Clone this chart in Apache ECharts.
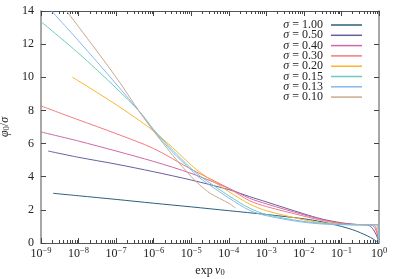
<!DOCTYPE html>
<html><head><meta charset="utf-8">
<script src="https://cdn.jsdelivr.net/npm/echarts@6/dist/echarts.min.js"></script>
<style>html,body{margin:0;padding:0;background:#fff}#c{width:399px;height:279px}</style>
</head><body><div id="c"></div>
<script>
// ---- data ----
const legendLabels = ['σ = 1.00','σ = 0.50','σ = 0.40','σ = 0.30','σ = 0.20','σ = 0.15','σ = 0.13','σ = 0.10'];
const yTicks = [0, 2, 4, 6, 8, 10, 12, 14];
const xTickExponents = [-9, -8, -7, -6, -5, -4, -3, -2, -1, 0];

const s100 = [[2.1e-9,3.0],[1e-8,2.85],[1e-7,2.63],[1e-6,2.4],[1e-5,2.18],[1e-4,1.95],[1e-3,1.72],[1e-2,1.46],[3e-2,1.28],[1e-1,1.0],[0.2,0.8],[0.32,0.62],[0.5,0.42],[0.7,0.24],[0.85,0.11],[1,0]];
const s050 = [[1.55e-9,5.55],[1e-8,5.17],[1e-7,4.76],[1e-6,4.3],[1e-5,3.8],[1e-4,3.22],[3.6e-4,2.8],[1e-3,2.48],[1e-2,1.76],[3e-2,1.45],[1e-1,1.22],[0.25,1.12],[0.45,1.1],[0.55,1.05],[0.65,0.92],[0.75,0.72],[0.85,0.48],[0.93,0.25],[1,0]];
const s040 = [[1e-9,6.7],[1e-8,6.15],[1e-7,5.55],[1e-6,4.92],[1e-5,4.2],[1e-4,3.3],[3.6e-4,2.7],[1e-3,2.36],[1e-2,1.7],[3e-2,1.42],[1e-1,1.18],[0.3,1.11],[0.6,1.1],[0.7,1.03],[0.8,0.85],[0.88,0.6],[0.94,0.35],[0.98,0.15],[1,0]];
const s030 = [[1e-9,8.27],[1e-8,7.43],[1e-7,6.6],[1e-6,5.7],[1e-5,4.45],[1e-4,3.3],[3.6e-4,2.55],[1e-3,2.2],[1e-2,1.62],[3e-2,1.36],[1e-1,1.16],[0.3,1.1],[0.7,1.1],[0.8,1.0],[0.88,0.78],[0.94,0.5],[0.98,0.22],[1,0]];
const s020 = [[6.8e-9,10.0],[1e-8,9.78],[1e-7,8.35],[4.4e-7,7.35],[1e-6,6.75],[3.2e-6,5.75],[1e-5,4.7],[1.7e-5,4.27],[1e-4,3.1],[3.6e-4,2.35],[1e-3,1.95],[1e-2,1.4],[3e-2,1.22],[1e-1,1.13],[0.3,1.1],[0.85,1.1],[0.9,1.0],[0.95,0.7],[0.98,0.4],[1,0]];
const s015 = [[1e-9,13.36],[1e-8,11.45],[1e-7,9.35],[4.4e-7,7.88],[1e-6,6.85],[3.2e-6,5.6],[1e-5,4.5],[1.7e-5,4.05],[1e-4,2.85],[3.6e-4,2.1],[1e-3,1.72],[1e-2,1.3],[1e-1,1.12],[0.5,1.1],[0.92,1.1],[0.96,0.9],[0.985,0.55],[1,0]];
const s013 = [[1e-9,14.7],[1e-8,12.2],[1e-7,9.6],[4.4e-7,7.86],[1e-6,6.78],[3.2e-6,5.48],[1e-5,4.4],[1.7e-5,3.92],[1e-4,2.72],[3.6e-4,1.97],[1e-3,1.65],[1e-2,1.25],[1e-1,1.1],[0.5,1.1],[0.94,1.1],[0.97,0.9],[0.99,0.5],[1,0]];
const s010 = [[1e-9,16.0],[1e-8,13.05],[1e-7,10.0],[4.4e-7,7.85],[1e-6,6.75],[3.2e-6,5.3],[1e-5,4.0],[1.7e-5,3.5],[3.2e-5,3.0],[1e-4,2.4],[1.5e-4,2.12]];
const seriesData = [s100, s050, s040, s030, s020, s015, s013, s010];

// ---- style ----
const colors = ['#2c5f7c','#6a5d9f','#d067a8','#f47a7f','#fbb42f','#6ccbc0','#8ab7ef','#c7aa90'];
const serif = "'Liberation Serif','DejaVu Serif',serif";

const minorTicks = [];
for (let e = -9; e < 0; e++) for (let m = 2; m <= 9; m++) minorTicks.push(m * Math.pow(10, e));
const majorTicks = xTickExponents.map(e => Math.pow(10, e));

function expLabel(v) {
  const e = Math.round(Math.log10(v));
  return '{b|10}{s|' + (e < 0 ? '\u2212' + (-e) : String(e)) + '}';
}
const supRich = {
  b: {fontFamily: serif, fontSize: 12, lineHeight: 16, color: '#222'},
  s: {fontFamily: serif, fontSize: 8.5, lineHeight: 8, verticalAlign: 'top', color: '#222'}
};

function xAx(pos, major, labels) {
  return {
    type: 'log', logBase: 10, min: 1e-9, max: 1, position: pos,
    axisLine: {show: major, onZero: false, lineStyle: {color: '#555', width: 1}},
    axisTick: {show: true, inside: true, length: major ? 5 : 3, customValues: major ? majorTicks : minorTicks, lineStyle: {color: '#444', width: 1}},
    axisLabel: labels ? {show: true, formatter: expLabel, margin: 3, rich: supRich, customValues: majorTicks} : {show: false},
    splitLine: {show: false}, minorTick: {show: false}
  };
}

const xAxes = [xAx('bottom', true, true), xAx('bottom', false, false), xAx('top', true, false), xAx('top', false, false)];
xAxes[0].name = '{n|exp\u2009}{i|ν}{sub|0}';
xAxes[0].nameLocation = 'middle';
xAxes[0].nameGap = 20;
xAxes[0].nameTextStyle = {rich: {
  n: {fontFamily: serif, fontSize: 12, color: '#222'},
  i: {fontFamily: serif, fontSize: 12, fontStyle: 'italic', color: '#222'},
  sub: {fontFamily: serif, fontSize: 8.5, verticalAlign: 'bottom', lineHeight: 8, color: '#222'}
}};

const option = {
  animation: false,
  backgroundColor: '#fff',
  grid: {left: 41, right: 20, top: 11, bottom: 36, containLabel: false, outerBoundsMode: 'none'},
  xAxis: xAxes,
  yAxis: [
    {type: 'value', min: 0, max: 14, interval: 2, position: 'left',
     axisLine: {show: true, onZero: false, lineStyle: {color: '#8a8a8a', width: 1.5}},
     axisTick: {show: true, inside: true, length: 5, lineStyle: {color: '#444'}},
     axisLabel: {fontFamily: serif, fontSize: 12, color: '#222', margin: 7},
     splitLine: {show: false},
     name: '{i|φ}{sub|0}{n|/}{i|σ}', nameLocation: 'middle', nameGap: 25, nameRotate: 90,
     nameTextStyle: {rich: {
       i: {fontFamily: serif, fontSize: 12, fontStyle: 'italic', color: '#222'},
       n: {fontFamily: serif, fontSize: 12, color: '#222'},
       sub: {fontFamily: serif, fontSize: 8.5, verticalAlign: 'bottom', lineHeight: 8, color: '#222'}
     }}},
    {type: 'value', min: 0, max: 14, interval: 2, position: 'right',
     axisLine: {show: true, onZero: false, lineStyle: {color: '#8a8a8a', width: 1.5}},
     axisTick: {show: true, inside: true, length: 5, lineStyle: {color: '#444'}},
     axisLabel: {show: false}, splitLine: {show: false}}
  ],
  legend: {
    orient: 'vertical', right: 32, top: 14, align: 'right',
    itemWidth: 31, itemHeight: 1.5, itemGap: -1.7, icon: 'rect',
    data: legendLabels,
    formatter: name => '{i|σ}{n|' + name.slice(1) + '}',
    textStyle: {fontFamily: serif, fontSize: 12, lineHeight: 11, color: '#222', padding: [0, 3, 0, 0],
      rich: {
        i: {fontFamily: serif, fontSize: 12, fontStyle: 'italic', lineHeight: 11, color: '#222'},
        n: {fontFamily: serif, fontSize: 12, lineHeight: 11, color: '#222'}
      }}
  },
  series: seriesData.map((d, i) => ({
    name: legendLabels[i], type: 'line', data: d, xAxisIndex: 0, yAxisIndex: 0,
    showSymbol: false, symbol: 'none', smooth: 0.3, clip: true,
    lineStyle: {color: colors[i], width: 1}, itemStyle: {color: colors[i]}
  }))
};
const chart = echarts.init(document.getElementById('c'), null, {renderer: 'canvas'});
chart.setOption(option);
</script></body></html>
